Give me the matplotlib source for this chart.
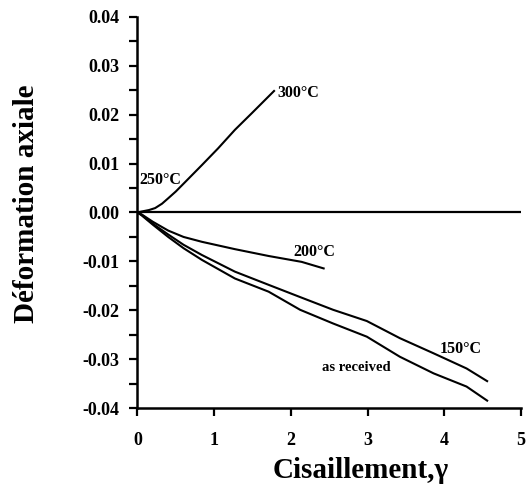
import matplotlib
matplotlib.use("Agg")
import matplotlib.pyplot as plt
from matplotlib.ticker import MultipleLocator, FixedLocator

plt.rcParams['font.family'] = ['Liberation Serif', 'DejaVu Serif']
plt.rcParams['font.weight'] = 'bold'
plt.rcParams['axes.unicode_minus'] = False

# Data
x_300 = [0.0, 0.055, 0.15, 0.23, 0.32, 0.40, 0.50, 0.62, 0.84, 1.05, 1.27, 1.49, 1.79]
y_300 = [0.0, 0.0002, 0.0005, 0.0009, 0.0018, 0.0029, 0.0043, 0.0062, 0.0097, 0.0131,
         0.0169, 0.0203, 0.0250]

x_200 = [0.0, 0.055, 0.20, 0.40, 0.60, 0.84, 1.27, 1.71, 2.14, 2.44]
y_200 = [0.0, -0.0004, -0.0019, -0.0037, -0.0050, -0.0060, -0.0075, -0.0089, -0.0101, -0.0115]

x_150 = [0.0, 0.055, 0.20, 0.40, 0.60, 0.84, 1.27, 1.71, 2.12, 2.55, 2.99, 3.42, 3.86, 4.29, 4.57]
y_150 = [0.0, -0.0005, -0.0023, -0.0045, -0.0066, -0.0087, -0.0121, -0.0148, -0.0173, -0.0199,
         -0.0222, -0.0257, -0.0288, -0.0319, -0.0346]

x_ar = [0.0, 0.055, 0.20, 0.40, 0.60, 0.84, 1.27, 1.71, 2.12, 2.55, 2.99, 3.42, 3.86, 4.29, 4.57]
y_ar = [0.0, -0.0006, -0.0025, -0.0050, -0.0073, -0.0097, -0.0135, -0.0162, -0.0199, -0.0227,
        -0.0254, -0.0295, -0.0329, -0.0356, -0.0386]

labels = ["300°C", "250°C", "200°C", "150°C", "as received"]
label_x = [1.83, 0.03, 2.03, 3.94, 2.41]
label_y = [0.0245, 0.0066, -0.0081, -0.0280, -0.0318]
label_size = [11.5, 11.5, 11.5, 11.5, 10.5]

x_ticks = [0, 1, 2, 3, 4, 5]
y_ticks = [0.04, 0.03, 0.02, 0.01, 0.00, -0.01, -0.02, -0.03, -0.04]

fig = plt.figure(figsize=(5.26, 4.91), dpi=100)
ax = fig.add_axes([0.2614, 0.1689, 0.7291, 0.7967])

lw = 1.5
for xs, ys in [(x_300, y_300), (x_200, y_200), (x_150, y_150), (x_ar, y_ar)]:
    ax.plot(xs, ys, color='black', lw=lw, solid_capstyle='butt')

ax.axhline(0.0, color='black', lw=1.6)

for t, lx, ly, fs in zip(labels, label_x, label_y, label_size):
    ax.text(lx, ly, t, fontsize=fs, fontweight='bold', ha='left', va='center')

ax.set_xlim(0, 5)
ax.set_ylim(-0.04, 0.04)
ax.xaxis.set_major_locator(FixedLocator(x_ticks))
ax.set_xticklabels([str(v) for v in x_ticks])
ax.yaxis.set_major_locator(FixedLocator(y_ticks))
ax.set_yticklabels(["%.2f" % v for v in y_ticks])
ax.yaxis.set_minor_locator(MultipleLocator(0.005))

for s in ['top', 'right']:
    ax.spines[s].set_visible(False)
for s in ['left', 'bottom']:
    ax.spines[s].set_linewidth(1.8)

ax.tick_params(axis='both', which='both', direction='out', length=6, width=1.6,
               labelsize=13)
ax.tick_params(axis='y', which='major', pad=7)
ax.tick_params(axis='x', which='major', pad=11)

ax.set_xlabel("Cisaillement,γ", fontsize=21, fontweight='bold')
ax.set_ylabel("Déformation axiale", fontsize=21, fontweight='bold')
ax.xaxis.set_label_coords(0.583, -0.125)
ax.yaxis.set_label_coords(-0.255, 0.522)

fig.savefig("out.png", dpi=100)
